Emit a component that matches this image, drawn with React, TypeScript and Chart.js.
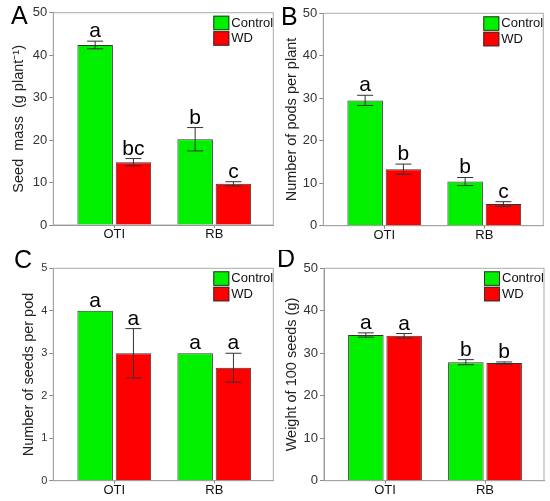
import React, { useEffect, useRef } from 'react';
import { Chart, registerables } from 'chart.js';

Chart.register(...registerables);

const groups = ['OTI', 'RB'];
const seriesNames = ['Control', 'WD'];
const seriesColors = ['#00f000', '#ff0000'];

// A: seed mass (g plant-1)
const massControl = [42.4, 20.2];
const massWD = [14.8, 9.7];
const massControlErr = [0.9, 2.75];
const massWDErr = [0.85, 0.5];
const massControlLetters = ['a', 'b'];
const massWDLetters = ['bc', 'c'];

// B: pods per plant
const podsControl = [29.5, 10.4];
const podsWD = [13.3, 5.1];
const podsControlErr = [1.2, 0.95];
const podsWDErr = [1.2, 0.55];
const podsControlLetters = ['a', 'b'];
const podsWDLetters = ['b', 'c'];

// C: seeds per pod
const seedsControl = [4.0, 3.0];
const seedsWD = [3.0, 2.66];
const seedsControlErr = [0, 0];
const seedsWDErr = [0.58, 0.34];
const seedsControlLetters = ['a', 'a'];
const seedsWDLetters = ['a', 'a'];

// D: weight of 100 seeds
const weightControl = [34.3, 27.9];
const weightWD = [34.1, 27.7];
const weightControlErr = [0.5, 0.6];
const weightWDErr = [0.55, 0.25];
const weightControlLetters = ['a', 'b'];
const weightWDLetters = ['a', 'b'];

const FONT = "'Liberation Sans', Arial, sans-serif";

const extrasPlugin = {
  id: 'extras',
  beforeDatasetsDraw(chart: any) {
    const { ctx, chartArea } = chart;
    ctx.save();
    ctx.strokeStyle = '#aaa';
    ctx.lineWidth = 1;
    ctx.strokeRect(chartArea.left, chartArea.top, chartArea.right - chartArea.left, chartArea.bottom - chartArea.top);
    ctx.restore();
  },
  afterDatasetsDraw(chart: any, _args: any, opts: any) {
    const { ctx, scales } = chart;
    const y = scales.y;
    chart.data.datasets.forEach((ds: any, i: number) => {
      const meta = chart.getDatasetMeta(i);
      meta.data.forEach((bar: any, j: number) => {
        const v = ds.data[j];
        const e = opts.errors[i][j];
        const x = bar.x;
        let top = y.getPixelForValue(v);
        ctx.save();
        if (e > 0) {
          const yt = y.getPixelForValue(v + e);
          const yb = y.getPixelForValue(v - e);
          ctx.strokeStyle = '#333';
          ctx.lineWidth = 1;
          ctx.beginPath();
          ctx.moveTo(x, yt);
          ctx.lineTo(x, yb);
          ctx.moveTo(x - 8, yt);
          ctx.lineTo(x + 8, yt);
          ctx.moveTo(x - 8, yb);
          ctx.lineTo(x + 8, yb);
          ctx.stroke();
          top = yt;
        }
        ctx.fillStyle = '#000';
        ctx.font = `21px ${FONT}`;
        ctx.textAlign = 'center';
        ctx.textBaseline = 'alphabetic';
        ctx.fillText(opts.letters[i][j], x, top - 4);
        ctx.restore();
      });
    });
  },
  afterDraw(chart: any, _args: any, opts: any) {
    const { ctx, chartArea } = chart;
    ctx.save();
    // legend inside the plot, top right
    const bx = chartArea.right - 60;
    let by = chartArea.top + 3;
    chart.data.datasets.forEach((ds: any) => {
      ctx.fillStyle = ds.backgroundColor;
      ctx.fillRect(bx, by, 16, 14.5);
      ctx.strokeStyle = '#333';
      ctx.lineWidth = 1;
      ctx.strokeRect(bx + 0.5, by + 0.5, 15, 13.5);
      ctx.fillStyle = '#111';
      ctx.font = `13px ${FONT}`;
      ctx.textAlign = 'left';
      ctx.textBaseline = 'middle';
      ctx.fillText(ds.label, bx + 18, by + 7.5);
      by += 15.5;
    });
    // panel letter
    ctx.fillStyle = '#000';
    ctx.font = `25px ${FONT}`;
    ctx.textAlign = 'left';
    ctx.textBaseline = 'alphabetic';
    ctx.fillText(opts.panel, opts.panelX, opts.panelY);
    ctx.restore();
  },
};

interface PanelProps {
  panel: string;
  panelX: number;
  panelY: number;
  width: number;
  height: number;
  yWidth: number;
  top: number;
  right: number;
  xHeight: number;
  titlePad: number;
  title: string;
  yMax: number;
  yStep: number;
  tickSize: number;
  control: number[];
  wd: number[];
  controlErr: number[];
  wdErr: number[];
  controlLetters: string[];
  wdLetters: string[];
}

const Panel: React.FC<PanelProps> = (p) => {
  const canvasRef = useRef<HTMLCanvasElement>(null);

  useEffect(() => {
    if (!canvasRef.current) return;
    const chart = new Chart(canvasRef.current, {
      type: 'bar',
      data: {
        labels: groups.map((_, i) => i + 1) as any,
        datasets: [
          {
            label: seriesNames[0],
            data: p.control,
            backgroundColor: seriesColors[0],
            borderColor: '#333',
            borderWidth: 1,
            barPercentage: 0.927,
            categoryPercentage: 0.766,
          },
          {
            label: seriesNames[1],
            data: p.wd,
            backgroundColor: seriesColors[1],
            borderColor: '#333',
            borderWidth: 1,
            barPercentage: 0.927,
            categoryPercentage: 0.766,
          },
        ],
      },
      options: {
        responsive: false,
        animation: false,
        layout: { padding: { left: 0, top: p.top, right: p.right, bottom: 0 } },
        plugins: {
          legend: { display: false },
          tooltip: { enabled: false },
          extras: {
            errors: [p.controlErr, p.wdErr],
            letters: [p.controlLetters, p.wdLetters],
            panel: p.panel,
            panelX: p.panelX,
            panelY: p.panelY,
          },
        } as any,
        scales: {
          x: {
            type: 'linear',
            min: 0.39,
            max: 2.59,
            offset: false,
            grid: { display: true, offset: false, drawOnChartArea: false, drawTicks: true, tickLength: 3, color: '#888' },
            border: { color: '#888' },
            ticks: {
              stepSize: 1,
              includeBounds: false,
              padding: -1,
              color: '#111',
              font: { family: FONT, size: 13 },
              callback: (v: any) => groups[Math.round(Number(v)) - 1] ?? '',
            },
            afterFit: (s: any) => {
              s.height = p.xHeight;
            },
          },
          y: {
            min: 0,
            max: p.yMax,
            grid: { display: true, drawOnChartArea: false, drawTicks: true, tickLength: 4, color: '#888' },
            border: { color: '#888' },
            ticks: {
              stepSize: p.yStep,
              padding: 2,
              color: '#333',
              font: { family: FONT, size: p.tickSize },
            },
            title: {
              display: true,
              text: p.title,
              color: '#222',
              font: { family: FONT, size: 14.5 },
              padding: { top: p.titlePad, bottom: 0 },
            },
            afterFit: (s: any) => {
              s.width = p.yWidth;
            },
          },
        },
      },
      plugins: [extrasPlugin],
    } as any);
    return () => chart.destroy();
  }, []);

  return <canvas ref={canvasRef} width={p.width} height={p.height} style={{ display: 'block' }} />;
};

export default function App() {
  return (
    <div style={{ position: 'absolute', left: 0, top: 0, width: 550, height: 501, background: '#fff' }}>
      <div style={{ position: 'absolute', left: 0, top: 0 }}>
        <Panel
          panel="A" panelX={11} panelY={24} width={275} height={250}
          yWidth={53.3} top={12.7} right={1.7} xHeight={25} titlePad={10.4}
          title={'Seed  mass  (g plant\u207B\u00B9)'} yMax={50} yStep={10} tickSize={13}
          control={massControl} wd={massWD} controlErr={massControlErr} wdErr={massWDErr}
          controlLetters={massControlLetters} wdLetters={massWDLetters}
        />
      </div>
      <div style={{ position: 'absolute', left: 275, top: 0 }}>
        <Panel
          panel="B" panelX={6} panelY={25} width={275} height={250}
          yWidth={48.3} top={13.3} right={6.7} xHeight={24.3} titlePad={8.1}
          title="Number of pods per plant" yMax={50} yStep={10} tickSize={13}
          control={podsControl} wd={podsWD} controlErr={podsControlErr} wdErr={podsWDErr}
          controlLetters={podsControlLetters} wdLetters={podsWDLetters}
        />
      </div>
      <div style={{ position: 'absolute', left: 0, top: 250 }}>
        <Panel
          panel="C" panelX={14} panelY={18} width={275} height={251}
          yWidth={53.3} top={18.3} right={1.7} xHeight={20.3} titlePad={20.4}
          title="Number of seeds per pod" yMax={5} yStep={1} tickSize={11}
          control={seedsControl} wd={seedsWD} controlErr={seedsControlErr} wdErr={seedsWDErr}
          controlLetters={seedsControlLetters} wdLetters={seedsWDLetters}
        />
      </div>
      <div style={{ position: 'absolute', left: 275, top: 250 }}>
        <Panel
          panel="D" panelX={2} panelY={17} width={275} height={251}
          yWidth={49} top={18.3} right={6} xHeight={20.3} titlePad={8.1}
          title="Weight of 100 seeds (g)" yMax={50} yStep={10} tickSize={13}
          control={weightControl} wd={weightWD} controlErr={weightControlErr} wdErr={weightWDErr}
          controlLetters={weightControlLetters} wdLetters={weightWDLetters}
        />
      </div>
    </div>
  );
}
